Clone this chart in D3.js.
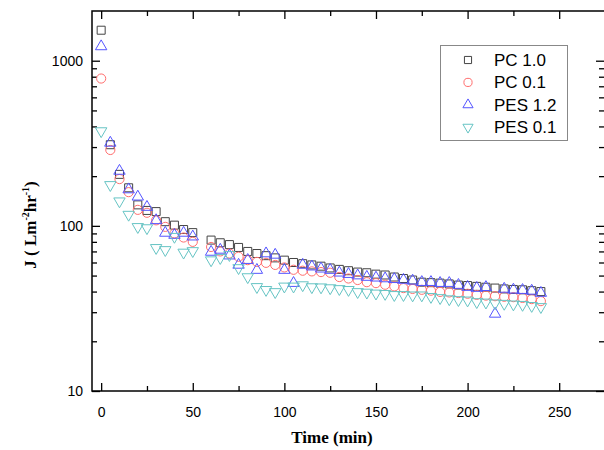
<!DOCTYPE html>
<html>
<head>
	<meta charset="utf-8">
	<script src="https://d3js.org/d3.v7.min.js"></script>
	<style>
		body { margin: 0; background: #fff; }
		.axis text { font-family: "Liberation Sans", Arial, sans-serif; font-size: 14px; fill: #000; }
		.axis line { stroke: #000; stroke-width: 1.3; }
		.axis path { display: none; }
		.title { font-family: "Liberation Serif", "Times New Roman", serif; font-weight: bold; font-size: 17px; }
		.legend text { font-family: "Liberation Sans", Arial, sans-serif; font-size: 17px; }
	</style>
</head>
<body>
	<svg width="604" height="450"></svg>
	<script>
		// time points (min), t = 55 was not recorded
		var times = [0,5,10,15,20,25,30,35,40,45,50,60,65,70,75,80,85,90,95,100,105,110,115,120,125,130,135,140,145,150,155,160,165,170,175,180,185,190,195,200,205,210,215,220,225,230,235,240];

		var pc10 = [1530,310,205,170,134,124,122,106,101,95,91,82,79,77,74,70,68,66,64,62,60,59,58,57,55.6,54.5,53.5,52.5,52,51,50.4,49,48,47,45.6,45.3,45,44.5,43.8,43.5,43,42.5,42,41.5,41.2,41,40.5,40];
		var pc01 = [780,288,192,160,125,120,108,98.6,90,85,80,74.5,70,68,65,62,60.5,59.7,58,56,54.2,53.5,53,52.5,52,49,48,47,45.6,45,44,43,42,41.5,41,40.5,39.8,39.5,39.2,38.8,38.2,37.8,37.5,37.2,37,36.6,36,35];
		var pes12 = [1220,318,215,166,150,130,108,90.6,88,90.6,86,69.5,71.5,66,58,62,54,68,66.7,54,45,58,56.6,55,54,52,51,50,49,48.5,48,47.5,47,46.5,45.6,45.6,45,45,43.8,42.6,42,42.5,29.3,41.5,41,40.8,40.4,39.2];
		var pes01 = [375,177,141,117,98.6,97,73.6,71.5,86,69,70.5,62,64,66.7,55.6,49,42.7,41,39.8,43,43,43.8,42.6,42.5,42,41.5,41,39.8,39.5,39,38.8,38.2,38.2,38,38,37.2,36.6,36,35.6,35.4,34.6,34.4,34,33.8,33.5,33.3,32.8,32.3];

		var seriesNames = ["PC 1.0", "PC 0.1", "PES 1.2", "PES 0.1"];
		var seriesValues = [pc10, pc01, pes12, pes01];
		var seriesColors = ["#444444", "#ff6e6e", "#5555ff", "#66c4c4"];
		var seriesSymbols = [d3.symbolSquare, d3.symbolCircle, d3.symbolTriangle, d3.symbolTriangle];
		var seriesSizes = [64, 66, 56, 56];
		var seriesRotate = [0, 0, 0, 180];

		var xTicks = [0, 50, 100, 150, 200, 250];
		var xMinor = [25, 75, 125, 175, 225, 275];
		var yTicks = [10, 100, 1000];

		var svg = d3.select("svg"),
		pL = 92, pR = 605, pT = 11, pB = 391;

		var x = d3.scaleLinear().domain([-5, 275]).range([pL, pR]);
		var y = d3.scaleLog().domain([10, 2000]).range([pB, pT]);

		var yMinor = [];
		[10, 100, 1000].forEach(function(d) {
			for (var k = 2; k <= 9; k++) { if (d * k < 2000) yMinor.push(d * k); }
		});

		// axes, ticks point inward
		svg.append("g").attr("class", "axis")
		.attr("transform", "translate(0," + pB + ")")
		.call(d3.axisBottom(x).tickValues(xTicks).tickSize(-8).tickPadding(16).tickFormat(d3.format("d")));
		svg.append("g").attr("class", "axis")
		.attr("transform", "translate(0," + pB + ")")
		.call(d3.axisBottom(x).tickValues(xMinor).tickSize(-5).tickFormat(""));
		svg.append("g").attr("class", "axis")
		.attr("transform", "translate(0," + pT + ")")
		.call(d3.axisTop(x).tickValues(xTicks).tickSize(-8).tickFormat(""));
		svg.append("g").attr("class", "axis")
		.attr("transform", "translate(0," + pT + ")")
		.call(d3.axisTop(x).tickValues(xMinor).tickSize(-5).tickFormat(""));

		svg.append("g").attr("class", "axis")
		.attr("transform", "translate(" + pL + ",0)")
		.call(d3.axisLeft(y).tickValues(yTicks).tickSize(-8).tickPadding(9).tickFormat(d3.format("d")));
		svg.append("g").attr("class", "axis")
		.attr("transform", "translate(" + pL + ",0)")
		.call(d3.axisLeft(y).tickValues(yMinor).tickSize(-5).tickFormat(""));
		svg.append("g").attr("class", "axis")
		.attr("transform", "translate(" + (pR - 1) + ",0)")
		.call(d3.axisRight(y).tickValues(yTicks).tickSize(-8).tickFormat(""));
		svg.append("g").attr("class", "axis")
		.attr("transform", "translate(" + (pR - 1) + ",0)")
		.call(d3.axisRight(y).tickValues(yMinor).tickSize(-5).tickFormat(""));

		svg.append("rect")
		.attr("x", pL).attr("y", pT)
		.attr("width", pR - pL).attr("height", pB - pT)
		.attr("fill", "none").attr("stroke", "#000").attr("stroke-width", 1.5);

		// markers
		seriesValues.forEach(function(vals, i) {
			var sym = d3.symbol().type(seriesSymbols[i]).size(seriesSizes[i]);
			svg.append("g").selectAll("path")
			.data(vals)
			.enter().append("path")
			.attr("d", sym)
			.attr("transform", function(d, j) {
				return "translate(" + x(times[j]) + "," + y(d) + ") rotate(" + seriesRotate[i] + ")";
			})
			.attr("fill", "none")
			.attr("stroke", seriesColors[i])
			.attr("stroke-width", 1);
		});

		// legend
		var legend = svg.append("g").attr("class", "legend");
		legend.append("rect")
		.attr("x", 440.5).attr("y", 45.5).attr("width", 127).attr("height", 95)
		.attr("fill", "#fff").attr("stroke", "#888").attr("stroke-width", 1);
		seriesNames.forEach(function(name, i) {
			var ly = 60 + i * 22.4;
			legend.append("path")
			.attr("d", d3.symbol().type(seriesSymbols[i]).size(seriesSizes[i] * 0.8)())
			.attr("transform", "translate(468," + ly + ") rotate(" + seriesRotate[i] + ")")
			.attr("fill", "none").attr("stroke", seriesColors[i]).attr("stroke-width", 1);
			legend.append("text")
			.attr("x", 494).attr("y", ly + 6)
			.text(name);
		});

		// axis titles
		svg.append("text").attr("class", "title")
		.attr("x", 332).attr("y", 443)
		.attr("text-anchor", "middle")
		.text("Time (min)");

		var yt = svg.append("text").attr("class", "title")
		.attr("transform", "translate(36,225) rotate(-90)")
		.attr("text-anchor", "middle");
		yt.append("tspan").text("J ( Lm");
		yt.append("tspan").attr("dy", -7).attr("font-size", 10).text("-2");
		yt.append("tspan").attr("dy", 7).text("hr");
		yt.append("tspan").attr("dy", -7).attr("font-size", 10).text("-1");
		yt.append("tspan").attr("dy", 7).text(")");
	</script>
</body>
</html>
